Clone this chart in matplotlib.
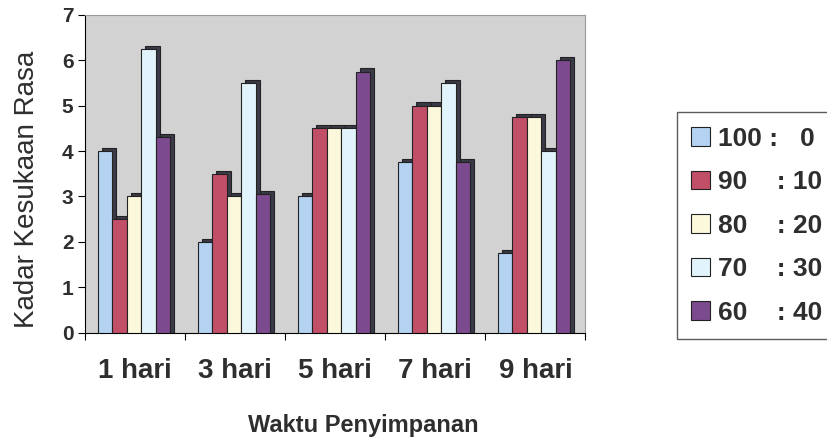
import numpy as np
import matplotlib.pyplot as plt

plt.rcParams['font.family'] = ['Liberation Sans', 'DejaVu Sans']

categories = ['1 hari', '3 hari', '5 hari', '7 hari', '9 hari']
series_labels = ['100 :   0', '90    : 10', '80    : 20', '70    : 30', '60    : 40']
values = [
    [4.0, 2.0, 3.0, 3.75, 1.75],
    [2.5, 3.5, 4.5, 5.0, 4.75],
    [3.0, 3.0, 4.5, 5.0, 4.75],
    [6.25, 5.5, 4.5, 5.5, 4.0],
    [4.3, 3.05, 5.75, 3.75, 6.0],
]
colors = ['#b4d2f2', '#c24f68', '#fcf8dc', '#e2f4fb', '#7c4a8e']
txt = '#2e2e2e'

fig = plt.figure(figsize=(8.28, 4.45), dpi=100)
ax = fig.add_axes([0.103, 0.252, 0.604, 0.715])
ax.set_facecolor('#d2d2d2')

x = np.arange(len(categories))
w = 0.145
handles = []
for i, (vals, c) in enumerate(zip(values, colors)):
    pos = x + (i - 2) * w - 0.015
    # dark side for the 3D look
    ax.bar(pos + 0.04, np.array(vals) + 0.07, width=w, color='#3a3a48',
           edgecolor='#222222', linewidth=0.8, zorder=2)
    b = ax.bar(pos, vals, width=w, color=c, edgecolor='#222222',
               linewidth=0.8, zorder=3, label=series_labels[i])
    handles.append(b)

ax.set_xlim(-0.5, 4.5)
ax.set_ylim(0, 7)
ax.set_yticks(range(8))
ax.set_xticks(np.arange(-0.5, 5, 1))
ax.set_xticklabels([])
ax.set_xticks(x, minor=True)
ax.set_xticklabels(categories, minor=True, fontsize=20, fontweight='bold', color=txt)
ax.tick_params(axis='x', which='minor', length=0, pad=18)
ax.tick_params(axis='x', which='major', length=5, direction='out')
ax.tick_params(axis='y', labelsize=15, labelcolor=txt, length=5)
for t in ax.get_yticklabels():
    t.set_fontweight('bold')
for s in ['top', 'right']:
    ax.spines[s].set_color('#999999')

ax.set_xlabel('Waktu Penyimpanan', fontsize=17, fontweight='bold', color=txt)
ax.xaxis.set_label_coords(0.555, -0.255)
ax.set_ylabel('Kadar Kesukaan Rasa', fontsize=20, color=txt)
ax.yaxis.set_label_coords(-0.09, 0.45)

leg = fig.legend(handles=handles, loc='upper left', bbox_to_anchor=(0.8176, 0.748),
                 prop={'size': 19, 'weight': 'bold'}, frameon=True, fancybox=False,
                 edgecolor='#333333', handlelength=0.7, handleheight=0.7,
                 handletextpad=0.3, labelspacing=0.74, borderpad=0.55,
                 borderaxespad=0)
leg.get_frame().set_linewidth(1.0)
for t in leg.get_texts():
    t.set_color(txt)

fig.savefig('out.png', dpi=100)
